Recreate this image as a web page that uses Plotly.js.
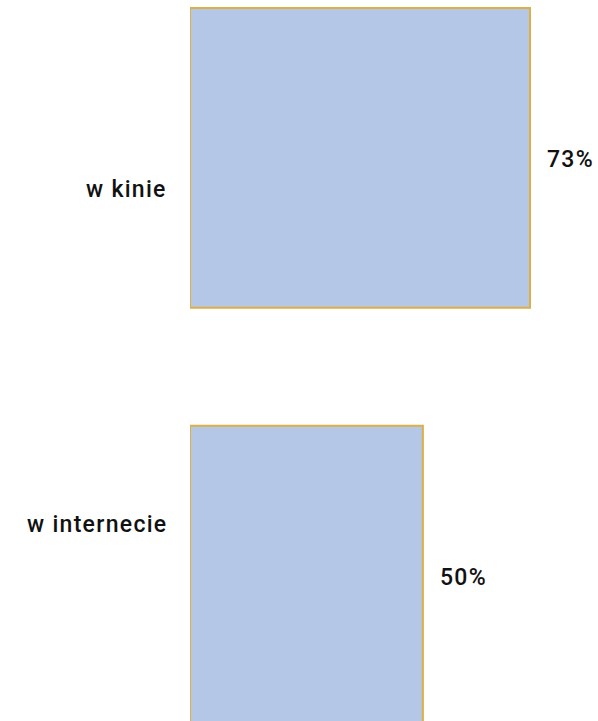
<!DOCTYPE html>
<html>
<head>
<meta charset="utf-8">
<script src="https://cdn.plot.ly/plotly-3.0.1.min.js"></script>
<style>
  html, body { margin: 0; padding: 0; background: #fff; }
  #chart { width: 598px; height: 721px; }
  .cat-label text { letter-spacing: 1.5px; }
  .annotation-text { letter-spacing: 1.3px; }
</style>
</head>
<body>
<div id="chart"></div>
<script>
// ---- data ----
const categories = ['w kinie', 'w internecie'];
const values = [73, 50];
const valueLabels = ['73%', '50%'];

// ---- layout config (positions/styles) ----
const catLabelShift = [-32, 51];   // vertical offset of category labels vs bar centre (px)
const fontFamily = 'Roboto, "DejaVu Sans", sans-serif';
const fillColor = '#B4C7E7';
const edgeColor = '#DCB042';

const trace = {
  type: 'bar',
  orientation: 'h',
  x: values,
  y: categories,
  marker: { color: fillColor, line: { color: edgeColor, width: 2 } },
  hoverinfo: 'skip'
};

const annotations = [];
categories.forEach((c, i) => {
  annotations.push({
    x: values[i], y: c, xref: 'x', yref: 'y',
    text: valueLabels[i], showarrow: false,
    xanchor: 'left', yanchor: 'middle', xshift: 15, yshift: -2,
    font: { family: fontFamily, size: 23, color: '#111', weight: 500 }
  });
  annotations.push({
    x: 0, y: c, xref: 'x', yref: 'y',
    text: c, showarrow: false,
    xanchor: 'right', yanchor: 'middle', xshift: -21, yshift: catLabelShift[i],
    font: { family: fontFamily, size: 23, color: '#111', weight: 500 }
  });
});

const layout = {
  width: 598, height: 721,
  margin: { l: 190, r: 0, t: 0, b: 0, pad: 0 },
  paper_bgcolor: '#fff', plot_bgcolor: '#fff',
  showlegend: false,
  bargap: 0.2825,
  xaxis: { range: [0, 87.6], visible: false, fixedrange: true },
  yaxis: { type: 'category', range: [1.3483, -0.3778], visible: false, fixedrange: true },
  annotations: annotations
};

Plotly.newPlot('chart', [trace], layout, { displayModeBar: false, staticPlot: true });
</script>
</body>
</html>
